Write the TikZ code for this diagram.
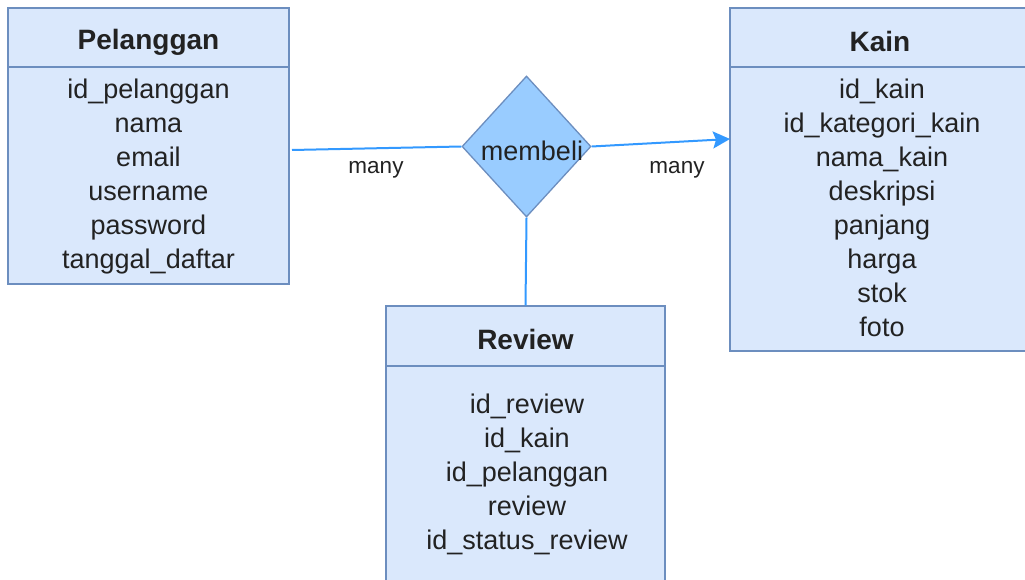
\documentclass[tikz,border=0pt]{standalone}
\usepackage{fontspec}
\setmainfont{Liberation Sans}
\usetikzlibrary{shapes.geometric,arrows.meta}
\definecolor{boxfill}{HTML}{DAE8FC}
\definecolor{boxline}{HTML}{6C8EBF}
\definecolor{dfill}{HTML}{99CCFF}
\definecolor{edge}{HTML}{3399FF}
\definecolor{txt}{HTML}{222222}
\tikzset{
  entity/.style={draw=boxline,fill=boxfill,line width=1.3pt,inner sep=0pt},
  ttl/.style={font=\fontsize{28}{34}\selectfont\bfseries,text=txt},
  attr/.style={font=\fontsize{27}{34}\selectfont,text=txt,align=center,inner sep=0pt},
  lbl/.style={font=\fontsize{22.5}{26}\selectfont,text=txt},
  conn/.style={draw=edge,line width=2pt},
}
\begin{document}
\begin{tikzpicture}[x=1pt,y=-1pt]
\useasboundingbox (0,0) rectangle (1025,580);
\begin{scope}
\clip (0,0) rectangle (1025,580);
% entities
\node[entity,minimum width=281pt,minimum height=276pt] (pel) at (148.5,146) {};
\draw[boxline,line width=1.3pt] (8,67) -- (289,67);
\node[ttl] (peltitle) at (148.5,42) {Pelanggan};
\node[attr] (pelattr) at (148.5,177) {id\_pelanggan\\nama\\email\\username\\password\\tanggal\_daftar};

\node[entity,minimum width=300pt,minimum height=343pt] (kain) at (880,179.5) {};
\draw[boxline,line width=1.3pt] (730,67) -- (1030,67);
\node[ttl] (kaintitle) at (880,41) {Kain};
\node[attr] (kainattr) at (882,207.5) {id\_kain\\id\_kategori\_kain\\nama\_kain\\deskripsi\\panjang\\harga\\stok\\foto};

\node[entity,minimum width=279pt,minimum height=290pt] (rev) at (525.5,451) {};
\draw[boxline,line width=1.3pt] (386,366) -- (665,366);
\node[ttl] (revtitle) at (525.5,339) {Review};
\node[attr] (revattr) at (527,474) {id\_review\\id\_kain\\id\_pelanggan\\review\\id\_status\_review};

% relationship
\node[diamond,draw=boxline,fill=dfill,line width=1.3pt,minimum width=129pt,minimum height=141pt,inner sep=0pt,aspect=0.915] (dia) at (526.5,146.5) {};
\node[font=\fontsize{27}{30}\selectfont,text=txt] (dtext) at (532,151) {membeli};

% connectors
\coordinate (pout) at (292,150);
\coordinate (kin) at (730,139);
\draw[conn] (pout) -- (dia.west);
\draw[conn,-{Stealth[length=17pt,width=17pt,inset=3pt]}] (dia.east) -- (kin);
\draw[conn] (dia.south) -- (rev.north);

\node[lbl] (m1) at (376,170) {many};
\node[lbl] (m2) at (677,170) {many};
\end{scope}
\end{tikzpicture}
\end{document}
